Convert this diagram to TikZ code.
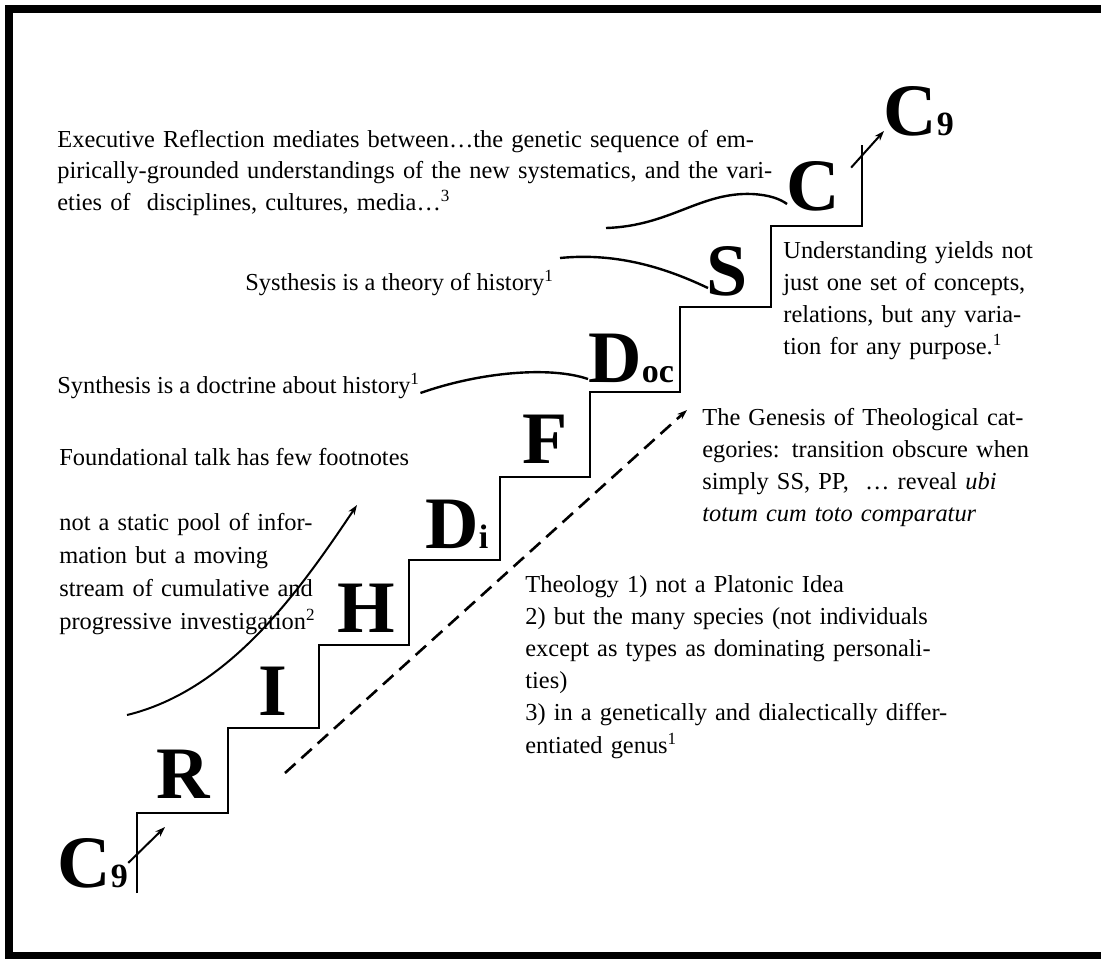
\documentclass[tikz,border=0pt]{standalone}
\usepackage{fontspec}
\setmainfont{Liberation Serif}
\usetikzlibrary{arrows.meta}

\newcommand{\jl}[1]{\makebox[\hsize][s]{#1}}
\newcommand{\lsub}[1]{{\fontsize{17}{17}\selectfont #1}}

\begin{document}
\begin{tikzpicture}[x=0.5pt, y=-0.5pt,
    stepl/.style={inner sep=0pt, anchor=base, font=\fontsize{37}{37}\selectfont\bfseries},
    txt/.style={inner sep=0pt, anchor=base west, align=left, font=\fontsize{12.2}{16.1}\selectfont},
    stair/.style={line width=1pt},
    lead/.style={line width=1.2pt},
    tip/.style={-{Stealth[length=5pt,width=3.5pt]}, line width=1pt}]
    \useasboundingbox (0,0) rectangle (1101,958);
    \draw[line width=4pt] (9,9) rectangle (1105,956);

    % the staircase
    \draw[stair] (137,893) -- (137,813) -- (228,813) -- (228,728) -- (319,728) -- (319,645)
        -- (409,645) -- (409,560) -- (500,560) -- (500,477) -- (590,477) -- (590,392)
        -- (680,392) -- (680,307) -- (771,307) -- (771,226) -- (862,226) -- (862,145);

    \node[stepl] (lr) at (183,798) {R};
    \node[stepl] (li) at (273,715) {I};
    \node[stepl] (lh) at (366,632) {H};
    \node[stepl, anchor=base west] (ldi) at (425,548) {D\lsub{i}};
    \node[stepl] (lf) at (545,463) {F};
    \node[stepl, anchor=base west] (ldoc) at (588,382) {D\lsub{oc}};
    \node[stepl] (ls) at (727,295) {S};
    \node[stepl] (lc) at (813,210) {C};
    \node[stepl, anchor=base west] (ctop) at (883,135) {C\lsub{9}};
    \node[stepl, anchor=base west] (cbot) at (57,887) {C\lsub{9}};

    % texts
    \node[txt, text width=359pt, font=\fontsize{12.2}{15.8}\selectfont] (exec) at (57,147)
        {\jl{Executive Reflection mediates between\ldots the genetic sequence of em-}\\
         \jl{pirically-grounded understandings of the new systematics, and the vari-}\\
         eties of~~disciplines, cultures, media\ldots\textsuperscript{3}};
    \node[txt] (theory) at (245,290) {Systhesis is a theory of history\textsuperscript{1}};
    \node[txt] (doctrine) at (57,393) {Synthesis is a doctrine about history\textsuperscript{1}};
    \node[txt] (footn) at (59,465) {Foundational talk has few footnotes};
    \node[txt, text width=126pt, font=\fontsize{12.2}{16.6}\selectfont] (pool) at (59,530)
        {\jl{not a static pool of infor-}\\
         \jl{mation but a moving}\\
         \jl{stream of cumulative and}\\
         \mbox{progressive investigation\textsuperscript{2}}};
    \node[txt, text width=125pt] (underst) at (783,258)
        {\jl{Understanding yields not}\\
         \jl{just one set of concepts,}\\
         \jl{relations, but any varia-}\\
         tion for any purpose.\textsuperscript{1}};
    \node[txt, text width=164pt] (genesis) at (702,425)
        {\jl{The Genesis of Theological cat-}\\
         \jl{egories: transition obscure when}\\
         \jl{simply SS, PP,~~\ldots{} reveal \textit{ubi}}\\
         \textit{totum cum toto comparatur}};
    \node[txt, text width=205.5pt] (theol) at (525,592)
        {Theology 1) not a Platonic Idea\\
         \jl{2) but the many species (not individuals}\\
         \jl{except as types as dominating personali-}\\
         ties)\\
         \jl{3) in a genetically and dialectically differ-}\\
         entiated genus\textsuperscript{1}};

    % leaders and arrows
    \coordinate (sfrom) at (560,258);
    \coordinate (cfrom) at (606,228);
    \coordinate (pfrom) at (127,715);
    \coordinate (pto) at (357,505);
    \coordinate (dfrom) at (285,773);
    \coordinate (cto) at (165,827);

    \draw[lead] (cfrom) .. controls (670,226) and (700,192) .. (752,194)
        .. controls (770,195) and (780,199) .. ([shift={(-26,-6)}]lc.base);
    \draw[lead] (sfrom) .. controls (620,252) and (670,270) .. ([shift={(-19,-7)}]ls.base);
    \draw[lead] (doctrine.base east) .. controls (480,372) and (550,366) .. ([shift={(0,-3)}]ldoc.base west);
    \draw[tip] (pfrom) .. controls (230,690) and (300,590) .. (pto);
    \draw[tip, line width=1.3pt, dash pattern=on 7pt off 4pt] (dfrom) -- ([shift={(-15,-15)}]genesis.base west);
    \draw[tip] ([shift={(11,7)}]lc.north east) -- ([shift={(1,-4)}]ctop.base west);
    \draw[tip] (cbot.east) -- (cto);
\end{tikzpicture}
\end{document}
